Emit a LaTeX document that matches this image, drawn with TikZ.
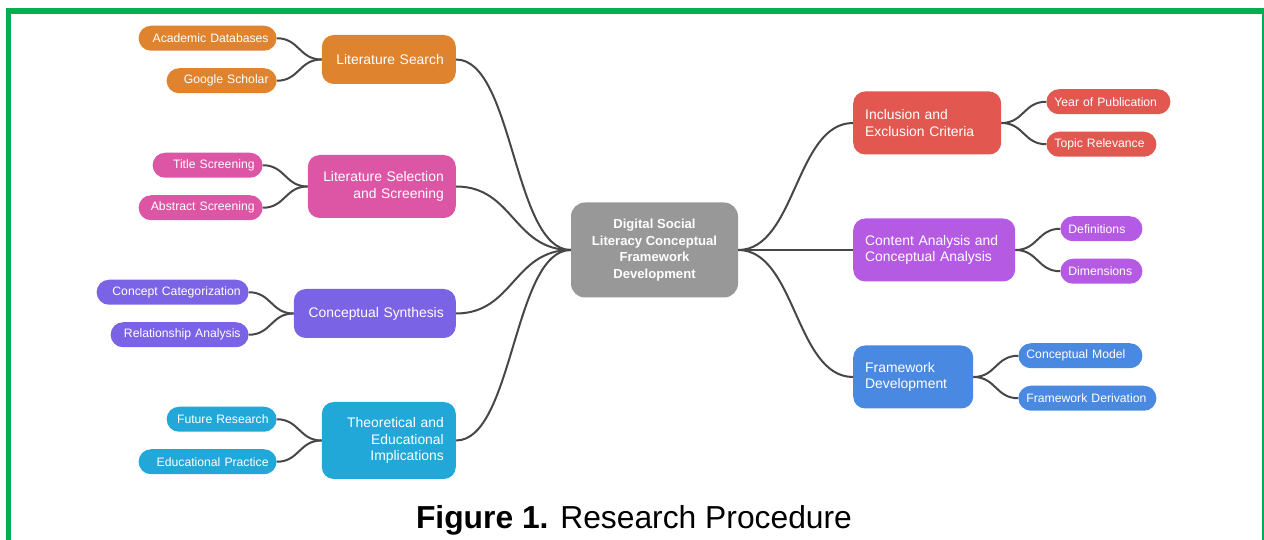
\documentclass[tikz,border=0pt]{standalone}
\usepackage{fontspec}
\setmainfont{Liberation Sans}
\definecolor{brOrange}{HTML}{E0832F}
\definecolor{brPink}{HTML}{DD56A6}
\definecolor{brIndigo}{HTML}{7B63E6}
\definecolor{brCyan}{HTML}{21A7D8}
\definecolor{brRed}{HTML}{E25850}
\definecolor{brViolet}{HTML}{B55BE3}
\definecolor{brBlue}{HTML}{4A89E2}
\definecolor{hubGray}{HTML}{989898}
\definecolor{linkGray}{HTML}{474747}
\definecolor{frameGreen}{HTML}{00B050}
\tikzset{
  hub/.style={rectangle, rounded corners=14pt, fill=hubGray, text=white, align=center,
    font=\bfseries\fontsize{13.1}{16.7}\selectfont, minimum width=167pt, minimum height=95pt},
  branch/.style 2 args={rectangle, rounded corners=12pt, fill=#1, text=white, text width=#2,
    font=\fontsize{13.9}{16.5}\selectfont, inner xsep=12pt, inner ysep=3pt, minimum height=49pt},
  leaf/.style 2 args={rectangle, rounded corners=12.5pt, fill=#1, text=white, text width=#2,
    font=\fontsize{12.2}{14}\selectfont, inner xsep=8pt, inner ysep=2pt, minimum height=25pt},
  reach/.style={level 2/.append style={level distance=#1}},
  link/.style={draw=linkGray, line width=2pt}
}
\begin{document}
\begin{tikzpicture}[x=1pt, y=1pt]
  \useasboundingbox (0,0) rectangle (1264,540);
  \draw[frameGreen, line width=5.5pt] (8.5,-20) -- (8.5,528.8) -- (1264.5,528.8) -- (1264.5,-20);

  % left half of the map
  \begin{scope}[grow=left, every child node/.style={anchor=east, align=right},
    edge from parent/.style={link},
    level 1/.style={level distance=198.5pt, sibling distance=127pt,
      edge from parent path={(\tikzparentnode.west) .. controls +(-57.5pt,0) and +(57.5pt,0) .. (\tikzchildnode.east)}},
    level 2/.style={sibling distance=42.5pt,
      edge from parent path={(\tikzparentnode.west) .. controls +(-22.5pt,0) and +(22.5pt,0) .. (\tikzchildnode.east)}}]
  \node[hub] (hub) at (654.5,290) {Digital Social\\Literacy Conceptual\\Framework\\Development}
    child[reach=112pt] { node[branch={brOrange}{110pt}] (search) {Literature Search}
      child { node[leaf={brOrange}{122pt}] (databases) {Academic Databases} }
      child { node[leaf={brOrange}{94pt}] (scholar) {Google Scholar} }
    }
    child[reach=119pt] { node[branch={brPink}{124pt}, minimum height=63pt] (selection) {Literature Selection\\and Screening}
      child { node[leaf={brPink}{94pt}] (title) {Title Screening} }
      child { node[leaf={brPink}{108pt}] (abstract) {Abstract Screening} }
    }
    child[reach=126pt] { node[branch={brIndigo}{138pt}] (synthesis) {Conceptual Synthesis}
      child { node[leaf={brIndigo}{136pt}] (categorization) {Concept Categorization} }
      child { node[leaf={brIndigo}{122pt}] (relationship) {Relationship Analysis} }
    }
    child[reach=112pt] { node[branch={brCyan}{110pt}, minimum height=77pt] (implications) {Theoretical and\\Educational\\Implications}
      child { node[leaf={brCyan}{94pt}] (future) {Future Research} }
      child { node[leaf={brCyan}{122pt}] (practice) {Educational Practice} }
    };
  \end{scope}

  % right half of the map
  \begin{scope}[grow'=right, every child node/.style={anchor=west, align=left},
    edge from parent/.style={link},
    level 1/.style={level distance=198.5pt, sibling distance=127pt,
      edge from parent path={(hub.east) .. controls +(57.5pt,0) and +(-57.5pt,0) .. (\tikzchildnode.west)}},
    level 2/.style={sibling distance=42.5pt,
      edge from parent path={(\tikzparentnode.east) .. controls +(22.5pt,0) and +(-22.5pt,0) .. (\tikzchildnode.west)}}]
  \coordinate (hub-r) at (hub.center)
    child[reach=119pt] { node[branch={brRed}{124pt}, minimum height=63pt] (criteria) {Inclusion and\\Exclusion Criteria}
      child { node[leaf={brRed}{108pt}] (year) {Year of Publication} }
      child { node[leaf={brRed}{94pt}] (relevance) {Topic Relevance} }
    }
    child[reach=126pt] { node[branch={brViolet}{138pt}, minimum height=63pt] (content) {Content Analysis and\\Conceptual Analysis}
      child { node[leaf={brViolet}{66pt}] (definitions) {Definitions} }
      child { node[leaf={brViolet}{66pt}] (dimensions) {Dimensions} }
    }
    child[reach=105pt] { node[branch={brBlue}{96pt}, minimum height=63pt] (framework) {Framework\\Development}
      child { node[leaf={brBlue}{108pt}] (model) {Conceptual Model} }
      child { node[leaf={brBlue}{122pt}] (derivation) {Framework Derivation} }
    };
  \end{scope}

  \node[anchor=base, font=\fontsize{31.8}{36}\selectfont] (caption) at (634,11) {\textbf{Figure 1.} Research Procedure};
\end{tikzpicture}
\end{document}
